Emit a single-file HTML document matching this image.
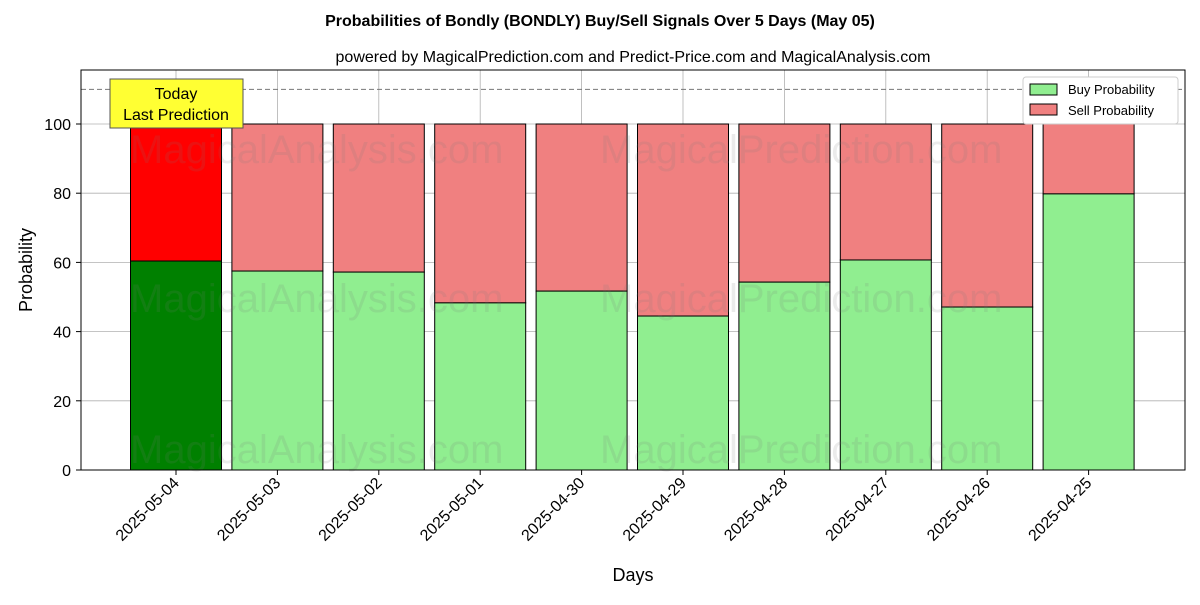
<!DOCTYPE html>
<html><head><meta charset="utf-8"><style>
body{margin:0;background:#fff;}
svg{font-family:"Liberation Sans","DejaVu Sans",sans-serif;}
</style></head><body>
<svg id="chart" width="1200" height="600" xmlns="http://www.w3.org/2000/svg">
<text x="600" y="26" text-anchor="middle" font-size="16" font-weight="bold">Probabilities of Bondly (BONDLY) Buy/Sell Signals Over 5 Days (May 05)</text>
<text x="633" y="62" text-anchor="middle" font-size="16">powered by MagicalPrediction.com and Predict-Price.com and MagicalAnalysis.com</text>
<g id="grid"></g>
<g id="bars"></g>
<g id="wm" font-size="40" fill="rgba(120,120,120,0.15)">
<text x="130" y="163">MagicalAnalysis.com</text>
<text x="600" y="163">MagicalPrediction.com</text>
<text x="130" y="312">MagicalAnalysis.com</text>
<text x="600" y="312">MagicalPrediction.com</text>
<text x="130" y="463">MagicalAnalysis.com</text>
<text x="600" y="463">MagicalPrediction.com</text>
</g>
<line x1="81" x2="1185" y1="89.4" y2="89.4" stroke="#777" stroke-dasharray="5,3"/>
<rect x="81" y="70" width="1104" height="400" fill="none" stroke="#000"/>
<g id="axes" font-size="16"></g>
<g>
<rect x="110" y="79" width="133" height="49" fill="#ffff33" stroke="#555"/>
<text x="176" y="99" text-anchor="middle" font-size="16">Today</text>
<text x="176" y="120" text-anchor="middle" font-size="16">Last Prediction</text>
</g>
<g font-size="13">
<rect x="1023" y="77" width="155" height="47" fill="#fff" stroke="#ccc" rx="3"/>
<rect x="1030" y="84" width="27" height="11" fill="#90ee90" stroke="#000"/>
<text x="1068" y="94">Buy Probability</text>
<rect x="1030" y="104" width="27" height="11" fill="#f08080" stroke="#000"/>
<text x="1068" y="115">Sell Probability</text>
</g>
<text x="32" y="270" text-anchor="middle" font-size="18" transform="rotate(-90 32 270)">Probability</text>
<text x="633" y="581" text-anchor="middle" font-size="18">Days</text>
</svg>
<script>
const categories=["2025-05-04","2025-05-03","2025-05-02","2025-05-01","2025-04-30","2025-04-29","2025-04-28","2025-04-27","2025-04-26","2025-04-25"];
const buyValues=[60.4,57.5,57.2,48.3,51.7,44.5,54.3,60.7,47.1,79.8];
const yTicks=[0,20,40,60,80,100];
const NS="http://www.w3.org/2000/svg";
const y=v=>470-v*3.46;
const x=i=>176+i*101.4;
const bw=91;
function mk(t,a,p){const e=document.createElementNS(NS,t);for(const k in a)e.setAttribute(k,a[k]);p.appendChild(e);return e;}
const grid=document.getElementById('grid'),bars=document.getElementById('bars'),axes=document.getElementById('axes');
yTicks.forEach(t=>{
 const l=mk('line',{x1:81,x2:1185,y1:y(t),y2:y(t),stroke:'#b0b0b0','stroke-width':0.8},grid);
 
 
 mk('line',{x1:76,x2:81,y1:y(t),y2:y(t),stroke:'#000'},axes);
 const tx=mk('text',{x:71,y:y(t)+6,'text-anchor':'end'},axes);tx.textContent=t;
 
 
});
categories.forEach((c,i)=>{
 const g=mk('line',{x1:x(i),x2:x(i),y1:70,y2:470,stroke:'#b0b0b0','stroke-width':0.8},grid);
 
 
 const b=buyValues[i];
 const s=mk('rect',{x:x(i)-bw/2,y:y(100),width:bw,height:y(b)-y(100),fill:i==0?'#ff0000':'#f08080',stroke:'#000'},bars);
 
 
 const r=mk('rect',{x:x(i)-bw/2,y:y(b),width:bw,height:470-y(b),fill:i==0?'#008000':'#90ee90',stroke:'#000'},bars);
 
 
 mk('line',{x1:x(i),x2:x(i),y1:470,y2:475,stroke:'#000'},axes);
 const tx=mk('text',{x:x(i)+4,y:484,'text-anchor':'end',transform:`rotate(-45 ${x(i)+4} 484)`},axes);
 tx.textContent=c;
 
 
});
</script>
</body></html>
